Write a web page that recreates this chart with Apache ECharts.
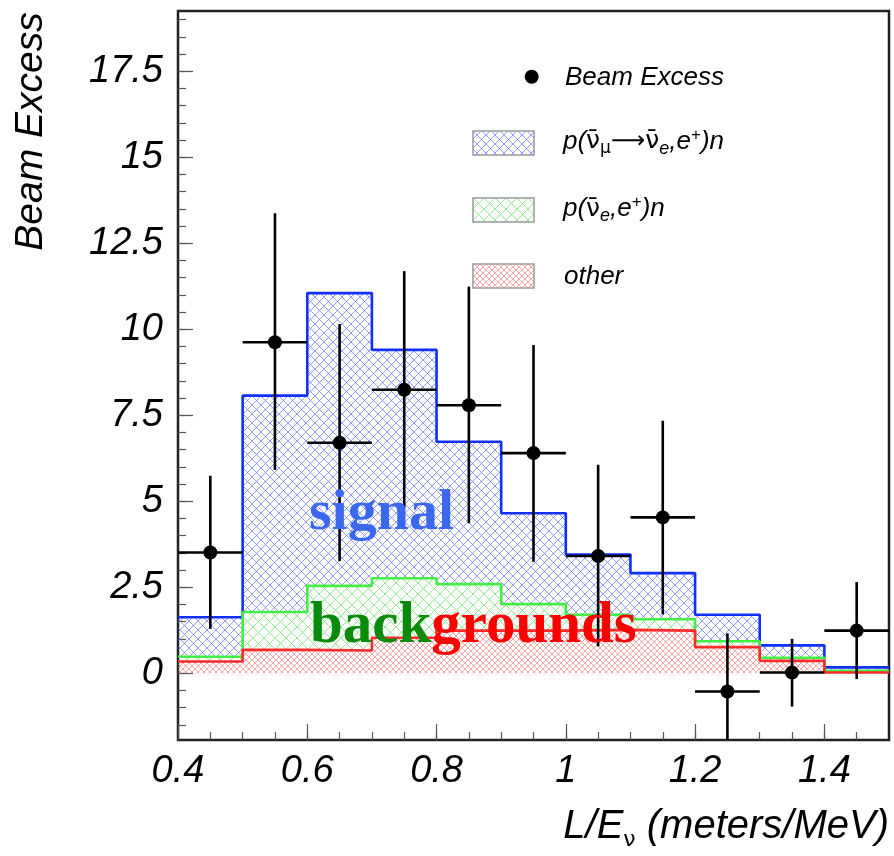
<!DOCTYPE html>
<html>
<head>
<meta charset="utf-8">
<script src="https://cdn.jsdelivr.net/npm/echarts@6/dist/echarts.min.js"></script>
<style>
  html, body { margin: 0; padding: 0; background: #ffffff; }
  #chart { width: 894px; height: 856px; }
</style>
</head>
<body>
<div id="chart"></div>
<script>
// Histogram bins in L/E (meters/MeV)
const binEdges = [0.4, 0.5, 0.6, 0.7, 0.8, 0.9, 1.0, 1.1, 1.2, 1.3, 1.4, 1.5];

// Expected event contributions per bin (stacked bottom to top)
const otherBkg   = [0.34, 0.68, 0.66, 1.03, 1.24, 1.24, 1.26, 1.24, 0.76, 0.36, 0.02];
const nueBkg     = [0.14, 1.10, 1.88, 1.73, 1.35, 0.77, 0.44, 0.33, 0.17, 0.09, 0.05];
const oscSignal  = [1.15, 6.29, 8.51, 6.64, 4.14, 2.64, 1.75, 1.34, 0.77, 0.36, 0.10];

// Measured beam excess with error bar bounds
const excessX    = [0.45, 0.55, 0.65, 0.75, 0.85, 0.95, 1.05, 1.15, 1.25, 1.35, 1.45];
const excessY    = [3.51, 9.62, 6.70, 8.24, 7.79, 6.40, 3.41, 4.53, -0.53, 0.02, 1.24];
const excessLow  = [1.29, 5.91, 3.26, 4.80, 4.36, 3.24, 0.78, 1.71, -2.22, -0.97, -0.17];
const excessHigh = [5.74, 13.37, 10.15, 11.69, 11.24, 9.54, 6.06, 7.34, 1.16, 1.00, 2.65];

// Axis ranges and tick labels
const xRange = [0.4, 1.5];
const yRange = [-1.94, 19.25];
const xTickLabels = [0.4, 0.6, 0.8, 1.0, 1.2, 1.4];
const yTickLabels = [0, 2.5, 5, 7.5, 10, 12.5, 15, 17.5];

// minor tick positions
const xMinorTicks = [];
for (let i = 9; i <= 29; i++) xMinorTicks.push(+(i * 0.05).toFixed(2));
const yMinorTicks = [];
for (let i = -3; i <= 38; i++) yMinorTicks.push(i * 0.5);

// cross-hatch tiles
function hatch(size, color, width) {
  const c = document.createElement('canvas');
  c.width = size; c.height = size;
  const g = c.getContext('2d');
  g.strokeStyle = color; g.lineWidth = width;
  g.beginPath();
  for (const k of [-size, 0, size]) {
    g.moveTo(k, 0); g.lineTo(k + size, size);
    g.moveTo(k, size); g.lineTo(k + size, 0);
  }
  g.stroke();
  return { image: c, repeat: 'repeat' };
}
const blueHatch  = hatch(9, 'rgba(80,100,240,0.62)', 1);
const greenHatch = hatch(11, 'rgba(110,230,110,0.75)', 1);
const redHatch   = hatch(6, 'rgba(240,120,120,0.65)', 1);

// cumulative levels
const lvlOther = otherBkg.slice();
const lvlNue = otherBkg.map((v, i) => v + nueBkg[i]);
const lvlTotal = lvlNue.map((v, i) => v + oscSignal[i]);

function bandData(lower, upper) {
  return upper.map((v, i) => [binEdges[i], binEdges[i + 1], lower ? lower[i] : 0, v]);
}
function stepData(levels) {
  const d = levels.map((v, i) => [binEdges[i], v]);
  d.push([binEdges[binEdges.length - 1], levels[levels.length - 1]]);
  return d;
}

function bandSeries(name, data, fill) {
  return {
    name, type: 'custom', xAxisIndex: 0, yAxisIndex: 0, clip: true, z: 2,
    data,
    renderItem(params, api) {
      const a = api.coord([api.value(0), api.value(3)]);
      const b = api.coord([api.value(1), api.value(2)]);
      return {
        type: 'rect',
        shape: { x: a[0], y: a[1], width: b[0] - a[0], height: b[1] - a[1] },
        style: { fill: fill, stroke: null }
      };
    }
  };
}
function outlineSeries(name, levels, color, z) {
  return {
    name, type: 'line', step: 'end', xAxisIndex: 0, yAxisIndex: 0,
    data: stepData(levels), symbol: 'none', z,
    lineStyle: { color, width: 2.6 }, silent: true, animation: false
  };
}

const binHalf = (binEdges[1] - binEdges[0]) / 2;
const pointData = excessX.map((x, i) => [x, excessY[i], excessLow[i], excessHigh[i]]);

const axisFont = { fontFamily: 'Liberation Sans', fontStyle: 'italic', fontSize: 38, color: '#000' };
const tickStyle = { color: '#555', width: 1.2 };

function xAx(len, values, labels) {
  return {
    type: 'value', min: xRange[0], max: xRange[1], position: 'bottom', offset: 0,
    axisLine: { show: false, onZero: false },
    splitLine: { show: false },
    axisTick: { show: true, inside: true, length: len, customValues: values, lineStyle: tickStyle },
    axisLabel: labels
      ? Object.assign({ show: true, margin: 12, customValues: values }, axisFont)
      : { show: false }
  };
}
function yAx(len, values, labels) {
  return {
    type: 'value', min: yRange[0], max: yRange[1], position: 'left', offset: 0,
    axisLine: { show: false, onZero: false },
    splitLine: { show: false },
    axisTick: { show: true, inside: true, length: len, customValues: values, lineStyle: tickStyle },
    axisLabel: labels
      ? Object.assign({ show: true, margin: 15, customValues: values }, axisFont)
      : { show: false }
  };
}

const legendFont = 'italic 26px "Liberation Sans"';
const richLegend = {
  it:  { fontFamily: 'Liberation Sans', fontStyle: 'italic', fontSize: 26, fill: '#000' },
  nu:  { fontFamily: 'DejaVu Sans', fontSize: 25, fill: '#000' },
  sub: { fontFamily: 'DejaVu Sans', fontSize: 17, fill: '#000', padding: [14, 0, 0, 0] },
  subi:{ fontFamily: 'Liberation Sans', fontStyle: 'italic', fontSize: 18, fill: '#000', padding: [14, 0, 0, 0] },
  sup: { fontFamily: 'Liberation Sans', fontSize: 17, fill: '#000', padding: [0, 0, 13, 0] },
  ar:  { fontFamily: 'DejaVu Sans', fontSize: 24, fill: '#000' }
};

const chart = echarts.init(document.getElementById('chart'), null, { renderer: 'canvas' });
chart.setOption({
  animation: false,
  backgroundColor: '#ffffff',
  grid: {
    left: 178, top: 11, width: 711, height: 729,
    show: true, borderColor: '#222', borderWidth: 2.5, backgroundColor: 'transparent',
    containLabel: false, outerBoundsMode: 'none'
  },
  xAxis: [xAx(8, xMinorTicks, false), xAx(16, xTickLabels, true)],
  yAxis: [yAx(8, yMinorTicks, false), yAx(15, yTickLabels, true)],
  series: [
    bandSeries('p(ν̄μ→ν̄e,e+)n', bandData(lvlNue, lvlTotal), blueHatch),
    bandSeries('p(ν̄e,e+)n', bandData(lvlOther, lvlNue), greenHatch),
    bandSeries('other', bandData(null, lvlOther), redHatch),
    outlineSeries('total outline', lvlTotal, '#1030ff', 3),
    outlineSeries('nue outline', lvlNue, '#44ee44', 4),
    outlineSeries('other outline', lvlOther, '#ff2a2a', 5),
    {
      name: 'Beam Excess', type: 'custom', xAxisIndex: 0, yAxisIndex: 0, clip: true, z: 10,
      data: pointData,
      renderItem(params, api) {
        const x = api.value(0), y = api.value(1);
        const c = api.coord([x, y]);
        const l = api.coord([x - binHalf, y]);
        const r = api.coord([x + binHalf, y]);
        const lo = api.coord([x, api.value(2)]);
        const hi = api.coord([x, api.value(3)]);
        const ls = { stroke: '#000', lineWidth: 2.6 };
        return {
          type: 'group',
          children: [
            { type: 'line', shape: { x1: l[0], y1: l[1], x2: r[0], y2: r[1] }, style: ls },
            { type: 'line', shape: { x1: lo[0], y1: lo[1], x2: hi[0], y2: hi[1] }, style: ls },
            { type: 'circle', shape: { cx: c[0], cy: c[1], r: 7 }, style: { fill: '#000' } }
          ]
        };
      }
    }
  ],
  graphic: [
    // axis titles
    {
      type: 'text', x: 31, y: 131.5, rotation: Math.PI / 2, z: 20,
      style: { text: 'Beam Excess', font: 'italic 39px "Liberation Sans"', fill: '#000',
               align: 'center', verticalAlign: 'middle' }
    },
    {
      type: 'text', x: 889, y: 827, z: 20,
      style: {
        text: '{it|L/E}{sub|ν}{it| (meters/MeV)}', align: 'right', verticalAlign: 'middle',
        rich: {
          it: { fontFamily: 'Liberation Sans', fontStyle: 'italic', fontSize: 40, fill: '#000' },
          sub: { fontFamily: 'DejaVu Sans', fontSize: 22, fill: '#000', padding: [26, 0, 0, 0] }
        }
      }
    },
    // legend
    { type: 'circle', shape: { cx: 531.7, cy: 76.7, r: 7 }, style: { fill: '#000' }, z: 20 },
    { type: 'text', x: 565, y: 77.5, z: 20,
      style: { text: 'Beam Excess', font: legendFont, fill: '#000', verticalAlign: 'middle' } },
    { type: 'rect', shape: { x: 473, y: 131, width: 61, height: 24 }, z: 20,
      style: { fill: blueHatch, stroke: '#999', lineWidth: 1.5 } },
    { type: 'text', x: 563, y: 141.5, z: 20,
      style: { text: '{it|p(}{nu|ν̄}{sub|μ}{ar|⟶}{nu|ν̄}{subi|e}{it|,e}{sup|+}{it|)n}',
               verticalAlign: 'middle', rich: richLegend } },
    { type: 'rect', shape: { x: 473, y: 198, width: 61, height: 24 }, z: 20,
      style: { fill: greenHatch, stroke: '#999', lineWidth: 1.5 } },
    { type: 'text', x: 563, y: 209, z: 20,
      style: { text: '{it|p(}{nu|ν̄}{subi|e}{it|,e}{sup|+}{it|)n}',
               verticalAlign: 'middle', rich: richLegend } },
    { type: 'rect', shape: { x: 473, y: 264, width: 61, height: 24 }, z: 20,
      style: { fill: redHatch, stroke: '#999', lineWidth: 1.5 } },
    { type: 'text', x: 564, y: 277, z: 20,
      style: { text: 'other', font: legendFont, fill: '#000', verticalAlign: 'middle' } },
    // annotations
    { type: 'text', x: 309, y: 514, z: 15,
      style: { text: 'signal', font: 'bold 58px "Liberation Serif"', fill: '#3b68ee',
               verticalAlign: 'middle' } },
    { type: 'text', x: 310, y: 627, z: 15,
      style: { text: '{g|back}{r|grounds}', verticalAlign: 'middle',
               rich: {
                 g: { fontFamily: 'Liberation Serif', fontWeight: 'bold', fontSize: 59, fill: '#0a8a0a' },
                 r: { fontFamily: 'Liberation Serif', fontWeight: 'bold', fontSize: 59, fill: '#ff0000' }
               } } }
  ]
});
</script>
</body>
</html>
